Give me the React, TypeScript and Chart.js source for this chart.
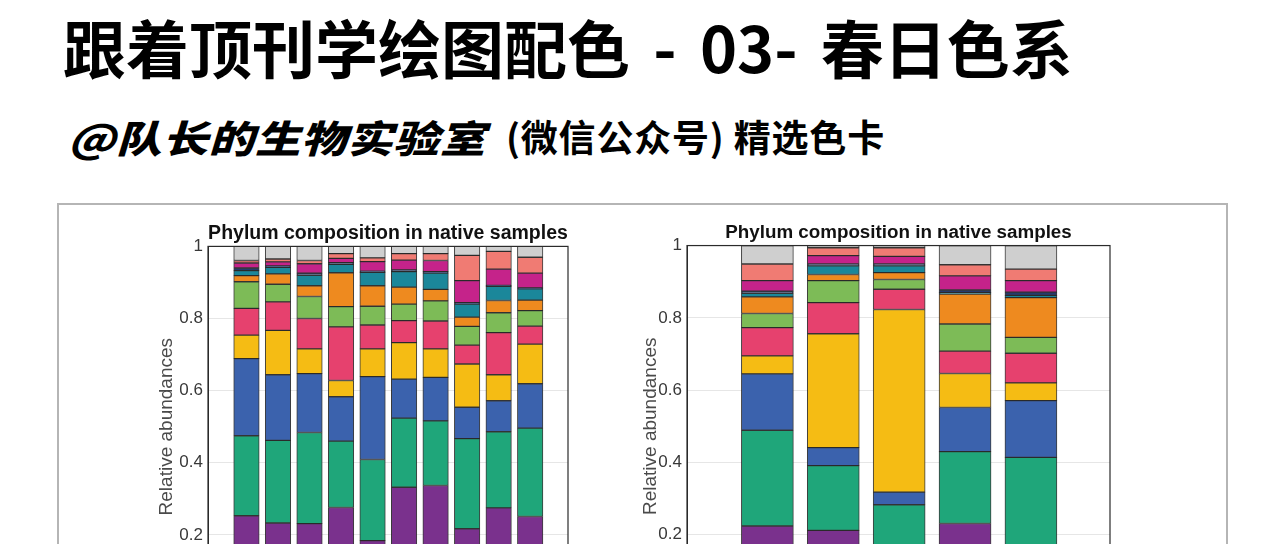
import React, { useEffect, useRef } from 'react';
import { Chart, registerables } from 'chart.js';

Chart.register(...registerables);

// ---------- text ----------
const MAIN_TITLE = '跟着顶刊学绘图配色 - 03- 春日色系';
const SUB_BRAND = '@队长的生物实验室';
const SUB_REST = '(微信公众号) 精选色卡';
const CHART_TITLE = 'Phylum composition in native samples';
const Y_TITLE = 'Relative abundances';

// ---------- categories ----------
const LEFT_SAMPLES = ['1', '2', '3', '4', '5', '6', '7', '8', '9', '10'];
const RIGHT_SAMPLES = ['1', '2', '3', '4', '5'];

// layers, bottom to top
const LAYER_NAMES = [
  'Purple', 'Green', 'Blue', 'Yellow', 'Pink', 'Light green',
  'Orange', 'Teal', 'Navy', 'Magenta', 'Salmon', 'Others',
];
const LAYER_COLORS = [
  '#7a318d', '#1fa67a', '#3b62ad', '#f5bc14', '#e6416e', '#7dbb57',
  '#ee8a1f', '#1b879a', '#26396c', '#c5238a', '#f07b73', '#cfcfcf',
];

// ---------- left chart values (10 samples) ----------
const L_PURPLE = [0.253, 0.233, 0.231, 0.276, 0.184, 0.332, 0.337, 0.217, 0.275, 0.251];
const L_GREEN = [0.222, 0.229, 0.253, 0.184, 0.225, 0.192, 0.179, 0.250, 0.211, 0.245];
const L_BLUE = [0.214, 0.182, 0.163, 0.123, 0.230, 0.108, 0.121, 0.087, 0.086, 0.123];
const L_YELLOW = [0.065, 0.123, 0.069, 0.045, 0.077, 0.101, 0.079, 0.120, 0.072, 0.110];
const L_PINK = [0.074, 0.079, 0.084, 0.149, 0.066, 0.061, 0.077, 0.052, 0.117, 0.050];
const L_LGREEN = [0.074, 0.049, 0.061, 0.056, 0.052, 0.046, 0.056, 0.052, 0.055, 0.043];
const L_ORANGE = [0.017, 0.029, 0.030, 0.094, 0.057, 0.047, 0.032, 0.026, 0.034, 0.029];
const L_TEAL = [0.014, 0.018, 0.029, 0.023, 0.037, 0.043, 0.045, 0.036, 0.039, 0.031];
const L_NAVY = [0.007, 0.004, 0.006, 0.005, 0.003, 0.005, 0.004, 0.004, 0.003, 0.003];
const L_MAGENTA = [0.014, 0.011, 0.026, 0.012, 0.027, 0.027, 0.031, 0.061, 0.045, 0.041];
const L_SALMON = [0.007, 0.008, 0.009, 0.013, 0.010, 0.018, 0.019, 0.070, 0.049, 0.044];
const L_GRAY = [0.039, 0.035, 0.039, 0.020, 0.032, 0.020, 0.020, 0.025, 0.014, 0.030];

// ---------- right chart values (5 samples) ----------
const R_PURPLE = [0.224, 0.212, 0.130, 0.231, 0.150];
const R_GREEN = [0.265, 0.179, 0.153, 0.199, 0.264];
const R_BLUE = [0.156, 0.050, 0.035, 0.122, 0.157];
const R_YELLOW = [0.050, 0.315, 0.505, 0.094, 0.049];
const R_PINK = [0.078, 0.086, 0.056, 0.062, 0.082];
const R_LGREEN = [0.039, 0.061, 0.027, 0.075, 0.044];
const R_ORANGE = [0.046, 0.017, 0.019, 0.083, 0.110];
const R_TEAL = [0.010, 0.024, 0.019, 0.004, 0.006];
const R_NAVY = [0.006, 0.005, 0.005, 0.007, 0.009];
const R_MAGENTA = [0.029, 0.023, 0.021, 0.039, 0.032];
const R_SALMON = [0.046, 0.022, 0.024, 0.031, 0.032];
const R_GRAY = [0.051, 0.006, 0.006, 0.053, 0.065];

const LEFT_LAYERS = [L_PURPLE, L_GREEN, L_BLUE, L_YELLOW, L_PINK, L_LGREEN, L_ORANGE, L_TEAL, L_NAVY, L_MAGENTA, L_SALMON, L_GRAY];
const RIGHT_LAYERS = [R_PURPLE, R_GREEN, R_BLUE, R_YELLOW, R_PINK, R_LGREEN, R_ORANGE, R_TEAL, R_NAVY, R_MAGENTA, R_SALMON, R_GRAY];

const Y_MIN = 0;
const Y_MAX = 1;
const Y_STEP = 0.2;

const plotBox = {
  id: 'plotBox',
  afterDraw(chart: any) {
    const { ctx, chartArea } = chart;
    const { left, top, right, bottom } = chartArea;
    ctx.save();
    ctx.strokeStyle = '#2b2b2b';
    ctx.lineWidth = 1.2;
    ctx.strokeRect(left, top, right - left, bottom - top);
    ctx.restore();
  },
};

type Props = {
  samples: string[];
  layers: number[][];
  barThickness: number;
  yWidth: number;
  titleSize: number;
  left: number;
  width: number;
};

function StackedChart({ samples, layers, barThickness, yWidth, titleSize, left, width }: Props) {
  const ref = useRef<HTMLCanvasElement>(null);
  useEffect(() => {
    const chart = new Chart(ref.current as HTMLCanvasElement, {
      type: 'bar',
      data: {
        datasets: layers.map((vals, k) => ({
          label: LAYER_NAMES[k],
          data: vals.map((v, i) => ({ x: i + 1, y: v, sample: samples[i] })),
          backgroundColor: LAYER_COLORS[k],
          borderColor: 'rgba(25,25,25,0.85)',
          borderWidth: 1,
          borderSkipped: false,
          barThickness,
        })),
      } as any,
      options: {
        animation: false,
        responsive: false,
        maintainAspectRatio: false,
        layout: { padding: { top: 10, right: 10, bottom: 25, left: 0 } },
        plugins: {
          legend: { display: false },
          tooltip: { enabled: false },
          title: {
            display: true,
            text: CHART_TITLE,
            fullSize: false,
            color: '#111',
            font: { family: '"Liberation Sans", Arial, sans-serif', size: titleSize, weight: 'bold', lineHeight: 1.2 },
            padding: { top: 0, bottom: 1 },
          },
        },
        scales: {
          x: {
            type: 'linear',
            stacked: true,
            offset: false,
            bounds: 'data',
            min: -0.22,
            max: samples.length + 1.2,
            ticks: { display: false },
            grid: { display: false, drawTicks: false },
            border: { display: false },
            afterFit: (s: any) => { s.height = 0; },
          },
          y: {
            stacked: true,
            min: Y_MIN,
            max: Y_MAX,
            ticks: {
              stepSize: Y_STEP,
              color: '#383838',
              padding: 5,
              font: { family: '"Liberation Sans", Arial, sans-serif', size: 17 },
              callback: (v: any) => String(Number(Number(v).toFixed(1))),
            },
            grid: { color: '#e6e6e6', drawTicks: false },
            border: { display: true, color: '#2b2b2b' },
            title: {
              display: true,
              text: Y_TITLE,
              color: '#4a4a4a',
              font: { family: '"Liberation Sans", Arial, sans-serif', size: 19, lineHeight: 1.2 },
              padding: { top: 5, bottom: 0 },
            },
            afterFit: (s: any) => { s.width = yWidth; },
          },
        },
      } as any,
      plugins: [plotBox],
    });
    return () => chart.destroy();
  }, []);
  return (
    <canvas
      ref={ref}
      width={width}
      height={420}
      style={{ position: 'absolute', left, top: 212, width, height: 420 }}
    />
  );
}

export default function App() {
  return (
    <div
      style={{
        position: 'absolute',
        left: 0,
        top: 0,
        width: 1280,
        height: 700,
        background: '#fff',
        overflow: 'hidden',
        color: '#000',
        fontFamily: '"Noto Sans CJK SC", sans-serif',
      }}
    >
      <div
        style={{
          position: 'absolute', left: 63, top: 14, fontSize: 63, fontWeight: 700,
          lineHeight: 1, whiteSpace: 'pre', wordSpacing: 9,
        }}
      >
        {MAIN_TITLE}
      </div>
      <div
        style={{
          position: 'absolute', left: 68, top: 118, fontSize: 38, fontWeight: 900,
          fontStyle: 'italic', letterSpacing: 0.5, lineHeight: 1, whiteSpace: 'pre',
          transform: 'scaleX(1.2)', transformOrigin: 'left top',
        }}
      >
        {SUB_BRAND}
      </div>
      <div
        style={{
          position: 'absolute', left: 506, top: 118, fontSize: 37, fontWeight: 700,
          lineHeight: 1, whiteSpace: 'pre', letterSpacing: 0.8,
        }}
      >
        {SUB_REST}
      </div>
      <div
        style={{
          position: 'absolute', left: 57, top: 203, width: 1167, height: 500,
          border: '2px solid #b5b5b5',
        }}
      />
      <StackedChart
        samples={LEFT_SAMPLES}
        layers={LEFT_LAYERS}
        barThickness={25.5}
        yWidth={58}
        titleSize={19.5}
        left={150}
        width={428}
      />
      <StackedChart
        samples={RIGHT_SAMPLES}
        layers={RIGHT_LAYERS}
        barThickness={52}
        yWidth={53}
        titleSize={18.8}
        left={634}
        width={486}
      />
    </div>
  );
}
